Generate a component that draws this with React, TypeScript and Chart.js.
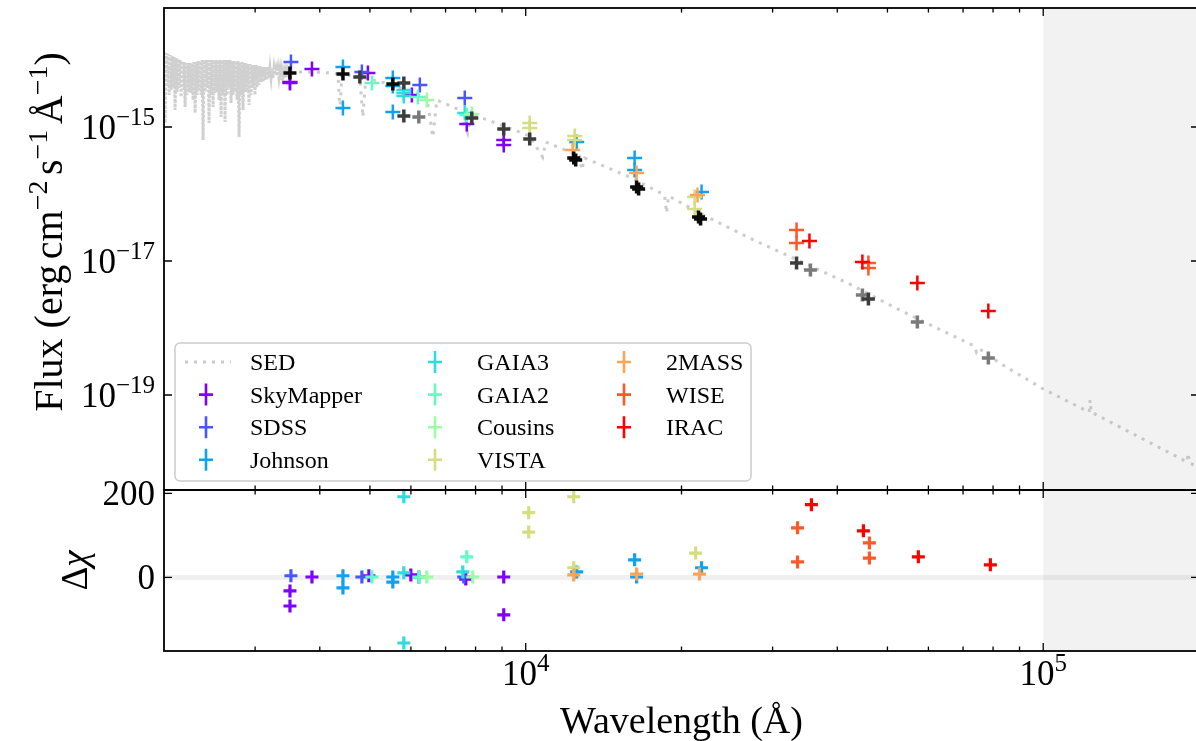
import React, { useEffect, useRef } from 'react';
import { Chart, registerables } from 'chart.js';

Chart.register(...registerables);

// ---------------- data (wavelength in Å, flux in erg cm^-2 s^-1 Å^-1) ----------------
const SED_POINTS: [number, number][] = [
  [2000, 1.316e-14], [2010, 1.15e-15], [2019, 1.272e-14], [2028, 4.24e-15], [2037, 1.229e-14],
  [2046, 3.00e-15], [2055, 1.188e-14], [2064, 3.57e-15], [2074, 1.147e-14], [2083, 3.82e-15],
  [2092, 1.109e-14], [2101, 1.79e-15], [2111, 1.071e-14], [2120, 3.33e-15], [2130, 1.035e-14],
  [2139, 3.82e-15], [2149, 1.0e-14], [2158, 2.80e-15], [2168, 9.66e-15], [2177, 3.57e-15],
  [2187, 9.34e-15], [2197, 1.99e-15], [2207, 9.02e-15], [2216, 3.00e-15], [2226, 9.02e-15],
  [2236, 3.33e-15], [2246, 9.02e-15], [2256, 3.22e-15], [2266, 9.02e-15], [2276, 2.53e-15],
  [2286, 9.34e-15], [2297, 1.62e-15], [2307, 9.34e-15], [2317, 3.00e-15], [2327, 9.66e-15],
  [2338, 3.57e-15], [2348, 9.66e-15], [2359, 3.00e-15], [2369, 1.0e-14], [2380, 6.40e-16],
  [2390, 1.0e-14], [2401, 3.33e-15], [2412, 1.0e-14], [2423, 3.82e-15], [2433, 1.0e-14],
  [2444, 1.15e-15], [2455, 1.0e-14], [2466, 3.00e-15], [2477, 1.0e-14], [2488, 1.99e-15],
  [2499, 1.0e-14], [2510, 3.22e-15], [2521, 1.0e-14], [2533, 3.33e-15], [2544, 1.0e-14],
  [2555, 2.53e-15], [2567, 1.0e-14], [2578, 1.41e-15], [2589, 1.0e-14], [2601, 3.00e-15],
  [2613, 1.0e-14], [2624, 1.19e-15], [2636, 1.0e-14], [2648, 3.00e-15], [2659, 1.0e-14],
  [2671, 3.82e-15], [2683, 1.0e-14], [2695, 2.28e-15], [2707, 9.66e-15], [2719, 3.00e-15],
  [2731, 9.66e-15], [2743, 3.33e-15], [2756, 9.66e-15], [2768, 2.53e-15], [2780, 9.66e-15],
  [2793, 7.09e-16], [2805, 9.34e-15], [2818, 3.00e-15], [2830, 9.34e-15], [2843, 1.79e-15],
  [2855, 9.02e-15], [2868, 3.33e-15], [2881, 9.02e-15], [2894, 3.33e-15], [2907, 8.72e-15],
  [2920, 2.13e-15], [2933, 8.72e-15], [2946, 3.00e-15], [2959, 8.42e-15], [2972, 3.82e-15],
  [2985, 8.42e-15], [2998, 3.00e-15], [3012, 8.42e-15], [3025, 3.95e-15], [3039, 8.14e-15],
  [3052, 4.24e-15], [3066, 8.14e-15], [3080, 4.70e-15], [3093, 7.86e-15], [3107, 4.70e-15],
  [3121, 7.86e-15], [3135, 5.03e-15], [3149, 7.86e-15], [3163, 5.03e-15], [3177, 7.86e-15],
  [3191, 5.39e-15], [3205, 7.60e-15], [3220, 5.39e-15], [3234, 7.60e-15], [3248, 5.39e-15],
  [3263, 7.60e-15], [3277, 5.97e-15], [3292, 7.34e-15], [3307, 5.77e-15], [3321, 7.34e-15],
  [3336, 5.39e-15], [3351, 7.09e-15], [3366, 5.03e-15], [3381, 7.09e-15], [3396, 5.77e-15],
  [3411, 6.85e-15], [3426, 5.39e-15], [3442, 6.85e-15], [3457, 5.39e-15], [3472, 6.85e-15],
  [3488, 5.97e-15], [3503, 6.62e-15], [3662, 6.62e-15], [3880, 6.62e-15],
  [4241, 6.40e-15], [4337, 6.18e-15], [4375, 1.79e-15], [4414, 6.18e-15], [4780, 5.57e-15],
  [4845, 1.41e-15], [4911, 5.38e-15], [5536, 4.24e-15], [6441, 2.71e-15], [6615, 7.10e-16],
  [6733, 2.53e-15], [7458, 1.79e-15], [7727, 8.13e-16], [7867, 1.62e-15], [8149, 1.41e-15],
  [10179, 7.34e-16], [10784, 3.56e-16], [10929, 5.97e-16], [12714, 3.69e-16], [12828, 2.28e-16],
  [13000, 3.44e-16], [15874, 1.79e-16], [18547, 9.66e-17], [18716, 5.20e-17], [18886, 9.33e-17],
  [21670, 5.20e-17], [27066, 2.20e-17], [33806, 1.0e-17], [42230, 4.54e-18], [52723, 1.86e-18],
  [65841, 8.13e-19], [73590, 5.38e-19], [74250, 4.39e-19], [74900, 5.02e-19], [82250, 3.01e-19],
  [100000, 1.23e-19], [122700, 5.57e-20], [123200, 8.41e-20], [123800, 5.57e-20], [153200, 2.36e-20],
  [189700, 1.0e-20], [190600, 1.36e-20], [191400, 9.66e-21], [200000, 8.41e-21],
];

const SKYMAPPER_WAVE = [3503, 3503, 3863, 4955, 6025, 7693, 9068, 9068];
const SKYMAPPER_FLUX = [4.54e-15, 4.70e-15, 7.35e-15, 6.40e-15, 3.01e-15, 1.11e-15, 6.40e-16, 5.38e-16];
const SDSS_WAVE = [3518, 4824, 6243, 7625];
const SDSS_FLUX = [9.33e-15, 6.62e-15, 4.24e-15, 2.71e-15];
const JOHNSON_WAVE = [4434, 4434, 5536, 5536, 5536, 12546, 16234, 16234, 21867];
const JOHNSON_FLUX = [7.87e-15, 1.92e-15, 5.38e-15, 4.09e-15, 1.67e-15, 5.97e-16, 3.44e-16, 2.28e-16, 1.07e-16];
const GAIA3_WAVE = [5814, 5814, 5814, 7625];
const GAIA3_FLUX = [3.21e-15, 3.57e-15, 2.90e-15, 1.62e-15];
const GAIA2_WAVE = [5044, 6188, 7693];
const GAIA2_FLUX = [4.54e-15, 2.81e-15, 1.51e-15];
const COUSINS_WAVE = [6441, 7867];
const COUSINS_FLUX = [2.53e-15, 1.56e-15];
const VISTA_WAVE = [10179, 10179, 12436, 12436, 21206, 21206];
const VISTA_FLUX = [1.15e-15, 9.66e-16, 7.34e-16, 6.40e-16, 9.01e-17, 5.97e-17];
const TWOMASS_WAVE = [12322, 16380, 21478];
const TWOMASS_FLUX = [4.54e-16, 2.06e-16, 9.66e-17];
const WISE_WAVE = [33370, 33370, 45940, 45940];
const WISE_FLUX = [2.90e-17, 1.86e-17, 9.33e-18, 7.87e-18];
const IRAC_WAVE = [35340, 44730, 57120, 78330];
const IRAC_FLUX = [1.99e-17, 9.66e-18, 4.70e-18, 1.79e-18];

// residuals Δχ
const SKYMAPPER_RES_WAVE = [3503, 3503, 3863, 4977, 5998, 7659, 9068, 9068];
const SKYMAPPER_RES = [-32, -68, 1, 4, 6, -4, 1, -89];
const SDSS_RES_WAVE = [3518, 4824, 6215, 7591];
const SDSS_RES = [4, 1, 1, 1];
const JOHNSON_RES_WAVE = [4434, 4434, 5536, 5536, 12546, 16234, 16380, 21867];
const JOHNSON_RES = [4, -25, 1, -11, 13, 42, 1, 23];
const GAIA3_RES_WAVE = [5814, 5814, 5814, 7558];
const GAIA3_RES = [192, 11, -156, 13];
const GAIA2_RES_WAVE = [5044, 6215, 7693];
const GAIA2_RES = [1, 1, 49];
const COUSINS_RES_WAVE = [6441, 7902];
const COUSINS_RES = [1, 1];
const VISTA_RES_WAVE = [10134, 10134, 12381, 12381, 21300];
const VISTA_RES = [154, 108, 192, 23, 58];
const TWOMASS_RES_WAVE = [12381, 16380, 21670];
const TWOMASS_RES = [6, 8, 8];
const WISE_RES_WAVE = [33518, 33518, 46145, 46145];
const WISE_RES = [118, 37, 82, 46];
const IRAC_RES_WAVE = [35655, 44930, 57370, 79040];
const IRAC_RES = [173, 111, 49, 30];

// model (synthetic) photometry
const MODEL_BLACK_WAVE = [3503, 4434, 5536, 12381, 12490, 16380, 16527, 21574, 21770];
const MODEL_BLACK_FLUX = [6.40e-15, 6.18e-15, 4.39e-15, 3.44e-16, 3.21e-16, 1.27e-16, 1.19e-16, 4.54e-17, 4.24e-17];
const MODEL_DARK_WAVE = [4780, 5814, 5814, 7867, 9068, 10179, 33370, 45940];
const MODEL_DARK_FLUX = [5.57e-15, 4.54e-15, 1.46e-15, 1.36e-15, 9.33e-16, 6.62e-16, 9.33e-18, 2.71e-18];
const MODEL_GRAY_WAVE = [6215, 35497, 44730, 57120, 78330];
const MODEL_GRAY_FLUX = [1.41e-15, 7.34e-18, 3.11e-18, 1.23e-18, 3.56e-19];

const SURVEY_NAMES = ['SkyMapper', 'SDSS', 'Johnson', 'GAIA3', 'GAIA2', 'Cousins', 'VISTA', '2MASS', 'WISE', 'IRAC'];
const SURVEY_FLUX: [number[], number[]][] = [
  [SKYMAPPER_WAVE, SKYMAPPER_FLUX], [SDSS_WAVE, SDSS_FLUX], [JOHNSON_WAVE, JOHNSON_FLUX],
  [GAIA3_WAVE, GAIA3_FLUX], [GAIA2_WAVE, GAIA2_FLUX], [COUSINS_WAVE, COUSINS_FLUX],
  [VISTA_WAVE, VISTA_FLUX], [TWOMASS_WAVE, TWOMASS_FLUX], [WISE_WAVE, WISE_FLUX], [IRAC_WAVE, IRAC_FLUX],
];
const SURVEY_RES: [number[], number[]][] = [
  [SKYMAPPER_RES_WAVE, SKYMAPPER_RES], [SDSS_RES_WAVE, SDSS_RES], [JOHNSON_RES_WAVE, JOHNSON_RES],
  [GAIA3_RES_WAVE, GAIA3_RES], [GAIA2_RES_WAVE, GAIA2_RES], [COUSINS_RES_WAVE, COUSINS_RES],
  [VISTA_RES_WAVE, VISTA_RES], [TWOMASS_RES_WAVE, TWOMASS_RES], [WISE_RES_WAVE, WISE_RES], [IRAC_RES_WAVE, IRAC_RES],
];

// axes
const X_MIN = 2000;
const X_MAX = 200000;
const FLUX_MIN = 3.82e-21;
const FLUX_MAX = 5.97e-14;
const RES_MIN = -175;
const RES_MAX = 208;
const SHADE_START = 100000;
const UV_DENSE_END = 3503; // wavelength below which the absorption forest is dense
const X_MAJOR = [10000, 100000];
const X_MINOR = [3000, 4000, 5000, 6000, 7000, 8000, 9000, 20000, 30000, 40000, 50000, 60000, 70000, 80000, 90000];
const FLUX_TICKS = [1e-15, 1e-17, 1e-19];
const RES_TICKS = [0, 200];

// ---------------- styles ----------------
const SURVEY_COLORS = ['#8000ff', '#4757fb', '#10a2f0', '#2bdddd', '#63fbc3', '#9cfba4', '#d5dd80', '#ffa457', '#ff572c', '#ff0000'];
const SED_COLOR = 'rgba(160,160,160,0.55)';
const SED_DENSE_COLOR = 'rgba(150,150,150,0.45)';
const SERIF = '"Liberation Serif", "DejaVu Serif", serif';

type Run = { t: string; s: number; r?: number; it?: boolean };
const fontOf = (r: Run) => `${r.it ? 'italic ' : ''}${r.s}px ${SERIF}`;

function drawRuns(ctx: CanvasRenderingContext2D, runs: Run[], x: number, y: number, align: 'left' | 'center' | 'right') {
  let w = 0;
  for (const r of runs) { ctx.font = fontOf(r); w += ctx.measureText(r.t).width; }
  let cx = align === 'left' ? x : align === 'center' ? x - w / 2 : x - w;
  ctx.textAlign = 'left';
  ctx.textBaseline = 'alphabetic';
  for (const r of runs) {
    ctx.font = fontOf(r);
    ctx.fillText(r.t, cx, y - (r.r || 0));
    cx += ctx.measureText(r.t).width;
  }
}

function powerRuns(v: number): Run[] {
  const e = Math.round(Math.log10(v));
  return [{ t: '10', s: 35 }, { t: e < 0 ? '\u2212' + (-e) : String(e), s: 25, r: 14 }];
}

const FLUX_LABEL: Run[] = [
  { t: 'Flux (erg', s: 40 }, { t: ' ', s: 22 }, { t: 'cm', s: 40 }, { t: '\u22122', s: 28, r: 15 },
  { t: ' ', s: 22 }, { t: 's', s: 40 }, { t: '\u22121', s: 28, r: 15 }, { t: ' ', s: 22 },
  { t: 'Å', s: 40 }, { t: '\u22121', s: 28, r: 15 }, { t: ')', s: 40 },
];
const RES_LABEL: Run[] = [{ t: 'Δ', s: 37 }, { t: 'χ', s: 37, it: true }];

function roundRectPath(ctx: CanvasRenderingContext2D, x: number, y: number, w: number, h: number, r: number) {
  ctx.beginPath();
  ctx.moveTo(x + r, y);
  ctx.arcTo(x + w, y, x + w, y + h, r);
  ctx.arcTo(x + w, y + h, x, y + h, r);
  ctx.arcTo(x, y + h, x, y, r);
  ctx.arcTo(x, y, x + w, y, r);
  ctx.closePath();
}

const overlayPlugin = {
  id: 'sedOverlay',
  beforeDatasetsDraw(chart: any) {
    const ctx: CanvasRenderingContext2D = chart.ctx;
    const xs = chart.scales.x, yT = chart.scales.y, yB = chart.scales.yBot;
    const sx = xs.getPixelForValue(SHADE_START);
    ctx.save();
    ctx.fillStyle = 'rgba(0,0,0,0.052)';
    ctx.fillRect(sx, yT.top, xs.right - sx, yB.bottom - yT.top);
    const y0 = yB.getPixelForValue(0);
    ctx.strokeStyle = 'rgba(0,0,0,0.06)';
    ctx.lineWidth = 5;
    ctx.beginPath();
    ctx.moveTo(xs.left, y0);
    ctx.lineTo(xs.right, y0);
    ctx.stroke();
    ctx.restore();
  },
  afterDraw(chart: any) {
    const ctx: CanvasRenderingContext2D = chart.ctx;
    const xs = chart.scales.x, yT = chart.scales.y, yB = chart.scales.yBot;
    const L = xs.left, R = xs.right, T = yT.top, M = yT.bottom, B = yB.bottom;
    ctx.save();
    // spines
    ctx.strokeStyle = '#000';
    ctx.lineWidth = 1.8;
    ctx.strokeRect(L, T, R - L, M - T);
    ctx.strokeRect(L, M, R - L, B - M);
    // ticks (inward, all sides)
    ctx.lineWidth = 1.3;
    ctx.beginPath();
    const xt = (v: number, len: number) => {
      const p = xs.getPixelForValue(v);
      ([[T, 1], [M, -1], [M, 1], [B, -1]] as [number, number][]).forEach(([y0, d]) => {
        ctx.moveTo(p, y0); ctx.lineTo(p, y0 + d * len);
      });
    };
    X_MAJOR.forEach((v) => xt(v, 8));
    X_MINOR.forEach((v) => xt(v, 4.5));
    const yt = (scale: any, v: number) => {
      const p = scale.getPixelForValue(v);
      ctx.moveTo(L, p); ctx.lineTo(L + 8, p);
      ctx.moveTo(R, p); ctx.lineTo(R - 8, p);
    };
    FLUX_TICKS.forEach((v) => yt(yT, v));
    RES_TICKS.forEach((v) => yt(yB, v));
    ctx.stroke();

    // tick labels
    ctx.fillStyle = '#000';
    FLUX_TICKS.forEach((v) => drawRuns(ctx, powerRuns(v), L - 9, yT.getPixelForValue(v) + 12, 'right'));
    RES_TICKS.forEach((v) => drawRuns(ctx, [{ t: String(v), s: 35 }], L - 9, yB.getPixelForValue(v) + 12, 'right'));
    X_MAJOR.forEach((v) => drawRuns(ctx, powerRuns(v), xs.getPixelForValue(v), B + 34, 'center'));

    // axis titles
    drawRuns(ctx, [{ t: 'Wavelength (Å)', s: 38 }], (L + R) / 2, B + 82, 'center');
    ctx.save();
    ctx.translate(62, (T + M) / 2 - 17);
    ctx.rotate(-Math.PI / 2);
    drawRuns(ctx, FLUX_LABEL, 0, 0, 'center');
    ctx.restore();
    ctx.save();
    ctx.translate(87, (M + B) / 2);
    ctx.rotate(-Math.PI / 2);
    drawRuns(ctx, RES_LABEL, 0, 0, 'center');
    ctx.restore();

    // legend
    const lx = L + 11, ly = M - 147, lw = 576, lh = 138;
    roundRectPath(ctx, lx, ly, lw, lh, 5);
    ctx.fillStyle = 'rgba(255,255,255,0.8)';
    ctx.fill();
    ctx.strokeStyle = '#cccccc';
    ctx.lineWidth = 1.5;
    ctx.stroke();
    const entries = [{ name: 'SED', color: '' }, ...SURVEY_NAMES.map((n, i) => ({ name: n, color: SURVEY_COLORS[i] }))];
    const markerX = [31, 260, 449];
    const textX = [75, 302, 491];
    entries.forEach((e, k) => {
      const col = Math.floor(k / 4), row = k % 4;
      const cy = ly + 19 + row * 32.6;
      const mx = lx + markerX[col];
      if (!e.color) {
        ctx.save();
        ctx.strokeStyle = SED_COLOR;
        ctx.lineWidth = 3;
        ctx.setLineDash([3, 6]);
        ctx.beginPath();
        ctx.moveTo(mx - 21, cy);
        ctx.lineTo(mx + 25, cy);
        ctx.stroke();
        ctx.restore();
      } else {
        ctx.strokeStyle = e.color;
        ctx.lineWidth = 2.6;
        ctx.beginPath();
        ctx.moveTo(mx, cy - 11); ctx.lineTo(mx, cy + 11);
        ctx.moveTo(mx - 7, cy); ctx.lineTo(mx + 7, cy);
        ctx.stroke();
      }
      ctx.fillStyle = '#000';
      drawRuns(ctx, [{ t: e.name, s: 24 }], lx + textX[col], cy + 8, 'left');
    });
    ctx.restore();
  },
};

function buildConfig(): any {
  const datasets: any[] = [];
  datasets.push({
    label: 'SED',
    data: SED_POINTS.map(([x, y]) => ({ x, y })),
    xAxisID: 'x', yAxisID: 'y',
    showLine: true, borderColor: SED_COLOR, borderWidth: 3, borderDash: [3, 6],
    segment: {
      borderDash: (c: any) => (c.p1.parsed.x <= UV_DENSE_END ? [3, 1.5] : [3, 6]),
      borderColor: (c: any) => (c.p1.parsed.x <= UV_DENSE_END ? SED_DENSE_COLOR : SED_COLOR),
    },
    pointRadius: 0, tension: 0, fill: false, order: 100,
  });
  SURVEY_NAMES.forEach((name, i) => {
    const [w, f] = SURVEY_FLUX[i];
    const [rw, r] = SURVEY_RES[i];
    const c = SURVEY_COLORS[i];
    datasets.push({
      label: name, data: w.map((x, j) => ({ x, y: f[j] })), xAxisID: 'x', yAxisID: 'y',
      showLine: false, pointStyle: 'cross', pointRadius: 7.5, borderWidth: 2.5,
      borderColor: c, backgroundColor: c, order: 40 - i,
    });
    datasets.push({
      label: name + ' residual', data: rw.map((x, j) => ({ x, y: r[j] })), xAxisID: 'x', yAxisID: 'yBot',
      showLine: false, pointStyle: 'cross', pointRadius: 6.5, borderWidth: 3.2,
      borderColor: c, backgroundColor: c, order: 40 - i,
    });
  });
  const models: [number[], number[], string][] = [
    [MODEL_GRAY_WAVE, MODEL_GRAY_FLUX, '#7a7a7a'],
    [MODEL_DARK_WAVE, MODEL_DARK_FLUX, '#3c3c3c'],
    [MODEL_BLACK_WAVE, MODEL_BLACK_FLUX, '#0a0a0a'],
  ];
  models.forEach(([w, f, c], k) => {
    datasets.push({
      label: 'model ' + k, data: w.map((x, j) => ({ x, y: f[j] })), xAxisID: 'x', yAxisID: 'y',
      showLine: false, pointStyle: 'cross', pointRadius: 6.5, borderWidth: 3.5,
      borderColor: c, backgroundColor: c, order: 10 - k,
    });
  });

  const hidden = { grid: { display: false }, border: { display: false }, ticks: { display: false } };
  return {
    type: 'scatter',
    data: { datasets },
    options: {
      animation: false,
      responsive: false,
      devicePixelRatio: 1,
      events: [],
      layout: { autoPadding: false, padding: { left: 0, right: 1, top: 8, bottom: 0 } },
      plugins: { legend: { display: false }, tooltip: { enabled: false }, title: { display: false } },
      scales: {
        x: {
          type: 'logarithmic', position: 'bottom', min: X_MIN, max: X_MAX, ...hidden,
          afterFit: (s: any) => { s.height = 90; },
        },
        yBot: {
          type: 'linear', position: 'left', stack: 'panels', stackWeight: 161,
          min: RES_MIN, max: RES_MAX, ...hidden,
          afterFit: (s: any) => { s.width = 164; },
        },
        y: {
          type: 'logarithmic', position: 'left', stack: 'panels', stackWeight: 482,
          min: FLUX_MIN, max: FLUX_MAX, ...hidden,
          afterFit: (s: any) => { s.width = 164; },
        },
      },
    },
    plugins: [overlayPlugin],
  };
}

export default function App() {
  const ref = useRef<HTMLCanvasElement>(null);
  useEffect(() => {
    if (!ref.current) return;
    const chart = new Chart(ref.current, buildConfig());
    return () => chart.destroy();
  }, []);
  return (
    <div style={{ position: 'fixed', left: 0, top: 0, width: 1196, height: 741, overflow: 'hidden', background: '#ffffff' }}>
      <canvas ref={ref} width={1200} height={741} style={{ display: 'block' }} />
    </div>
  );
}
